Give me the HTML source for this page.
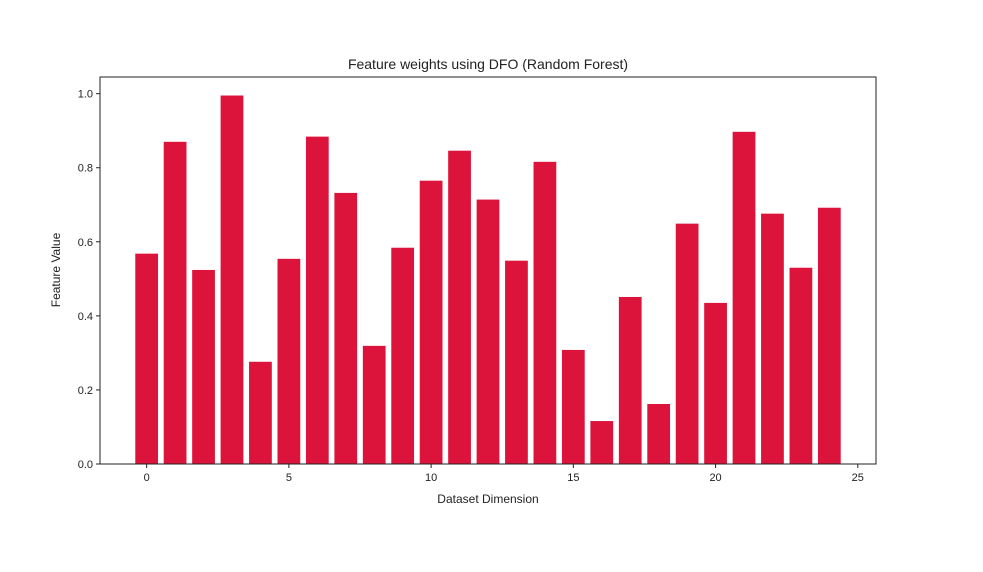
<!DOCTYPE html>
<html><head><meta charset="utf-8"><style>
body{margin:0;background:#fff;}
svg text{font-family:"Liberation Sans","DejaVu Sans",sans-serif;fill:#222;}
</style></head><body>
<svg id="chart" width="983" height="567" xmlns="http://www.w3.org/2000/svg">
<rect width="983" height="567" fill="#fff"/>
<g id="bars"></g>
<g id="axes"></g>
<text x="488" y="69" text-anchor="middle" font-size="14">Feature weights using DFO (Random Forest)</text>
<text x="488" y="503" text-anchor="middle" font-size="12">Dataset Dimension</text>
<text transform="translate(60,270) rotate(-90)" text-anchor="middle" font-size="12">Feature Value</text>
</svg>
<script>
const categories=[0,1,2,3,4,5,6,7,8,9,10,11,12,13,14,15,16,17,18,19,20,21,22,23,24];
const values=[0.568,0.870,0.524,0.995,0.276,0.554,0.884,0.732,0.319,0.584,0.765,0.846,0.714,0.549,0.816,0.308,0.116,0.451,0.162,0.649,0.435,0.897,0.676,0.530,0.692];
const xTicks=[0,5,10,15,20,25];
const yTicks=[0.0,0.2,0.4,0.6,0.8,1.0];

const L=100,R=876,T=77,B=464;
const xmin=-1.64,xmax=25.64,ymin=0,ymax=1.045;
const sx=v=>L+(v-xmin)/(xmax-xmin)*(R-L);
const sy=v=>B-(v-ymin)/(ymax-ymin)*(B-T);
const NS="http://www.w3.org/2000/svg";
const bars=document.getElementById('bars'),axes=document.getElementById('axes');
function mk(tag,attrs,parent){const e=document.createElementNS(NS,tag);for(const k in attrs)e.setAttribute(k,attrs[k]);parent.appendChild(e);return e;}
categories.forEach((c,i)=>{
  const r=mk('rect',{x:sx(c-0.4),y:sy(values[i]),width:sx(c+0.4)-sx(c-0.4),height:sy(0)-sy(values[i]),fill:'#dc143c'},bars);
  
  
});
const frame=mk('rect',{x:L,y:T,width:R-L,height:B-T,fill:'none',stroke:'#222','stroke-width':1},axes);


xTicks.forEach(t=>{
  const x=sx(t);
  mk('line',{x1:x,x2:x,y1:B,y2:B+4,stroke:'#222'},axes);
  const tx=mk('text',{x:x,y:B+17,'text-anchor':'middle','font-size':11},axes);
  tx.textContent=t;
  
  
});
yTicks.forEach(t=>{
  const y=sy(t);
  mk('line',{x1:L-4,x2:L,y1:y,y2:y,stroke:'#222'},axes);
  const tx=mk('text',{x:L-7,y:y+4,'text-anchor':'end','font-size':11},axes);
  tx.textContent=t.toFixed(1);
  
  
});
</script>
</body></html>
